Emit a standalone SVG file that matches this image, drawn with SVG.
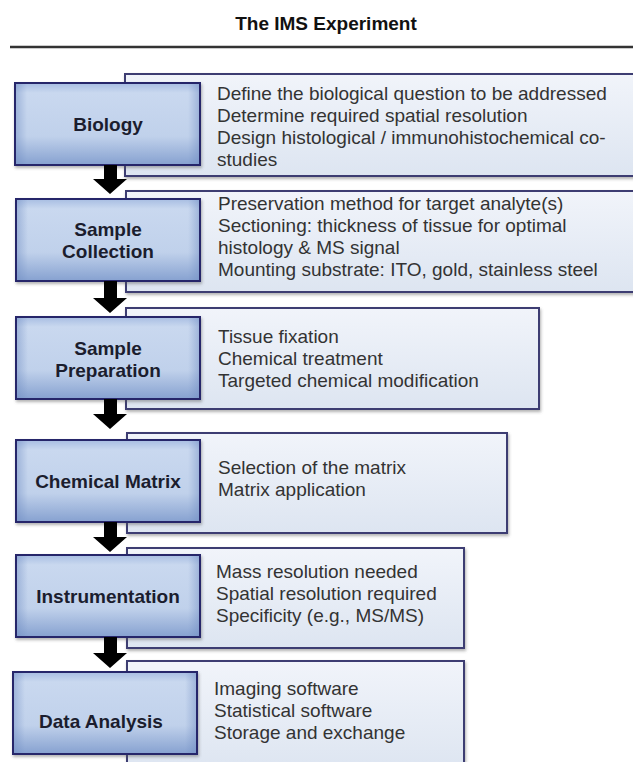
<svg xmlns="http://www.w3.org/2000/svg" width="633" height="762" viewBox="0 0 633 762">
<defs>
<linearGradient id="gMain" x1="0" y1="0" x2="0" y2="1">
<stop offset="0" stop-color="#a7bde2"/>
<stop offset="0.12" stop-color="#c9d8ef"/>
<stop offset="0.65" stop-color="#c0d1eb"/>
<stop offset="1" stop-color="#86a1d0"/>
</linearGradient>
<linearGradient id="gEdge" x1="0" y1="0" x2="1" y2="0">
<stop offset="0" stop-color="#6f8cc2" stop-opacity="0.45"/>
<stop offset="0.06" stop-color="#6f8cc2" stop-opacity="0"/>
<stop offset="0.94" stop-color="#6f8cc2" stop-opacity="0"/>
<stop offset="1" stop-color="#6f8cc2" stop-opacity="0.45"/>
</linearGradient>
<linearGradient id="gDetail" x1="0" y1="0" x2="0" y2="1">
<stop offset="0" stop-color="#f1f4fa"/>
<stop offset="1" stop-color="#dde5f1"/>
</linearGradient>
<filter id="shadow" x="-5%" y="-5%" width="112%" height="120%">
<feDropShadow dx="1" dy="2" stdDeviation="1.5" flood-color="#555" flood-opacity="0.45"/>
</filter>
</defs>
<style>
.title{font-family:"Liberation Sans",Arial,sans-serif;font-weight:bold;font-size:19px;fill:#111;text-anchor:middle}
.label{font-family:"Liberation Sans",Arial,sans-serif;font-weight:bold;font-size:19px;fill:#1b1d2e;text-anchor:middle}
.detail{font-family:"Liberation Sans",Arial,sans-serif;font-size:19px;fill:#333}
.dbox{fill:url(#gDetail);stroke:#3d3c72;stroke-width:2;filter:url(#shadow)}
.mbox{fill:url(#gMain);stroke:#28286a;stroke-width:2;filter:url(#shadow)}
.medge{fill:url(#gEdge);stroke:none}
.arrow{fill:#000}
</style>
<rect x="0" y="0" width="633" height="762" fill="#fff"/>
<text class="title" x="326" y="30">The IMS Experiment</text>
<line x1="10" y1="47" x2="633" y2="47" stroke="#333" stroke-width="2.5"/>

<g id="biology">
<rect class="dbox" x="125" y="74" width="515" height="102"/>
<rect class="mbox" x="15" y="83" width="185" height="82"/>
<rect class="medge" x="16" y="84" width="183" height="80"/>
<text class="label" x="108" y="131">Biology</text>
<text class="detail" x="217" y="100">Define the biological question to be addressed</text>
<text class="detail" x="217" y="122">Determine required spatial resolution</text>
<text class="detail" x="217" y="144">Design histological / immunohistochemical co-</text>
<text class="detail" x="217" y="166">studies</text>
</g>

<g id="sample-collection">
<rect class="dbox" x="126" y="191" width="514" height="101"/>
<rect class="mbox" x="16" y="199" width="184" height="82"/>
<rect class="medge" x="17" y="200" width="182" height="80"/>
<text class="label" x="108" y="236">Sample</text>
<text class="label" x="108" y="258">Collection</text>
<text class="detail" x="218" y="210">Preservation method for target analyte(s)</text>
<text class="detail" x="218" y="232">Sectioning: thickness of tissue for optimal</text>
<text class="detail" x="218" y="254">histology &amp; MS signal</text>
<text class="detail" x="218" y="276">Mounting substrate: ITO, gold, stainless steel</text>
</g>

<g id="sample-preparation">
<rect class="dbox" x="126" y="308" width="413" height="101"/>
<rect class="mbox" x="16" y="317" width="184" height="82"/>
<rect class="medge" x="17" y="318" width="182" height="80"/>
<text class="label" x="108" y="355">Sample</text>
<text class="label" x="108" y="377">Preparation</text>
<text class="detail" x="218" y="343">Tissue fixation</text>
<text class="detail" x="218" y="365">Chemical treatment</text>
<text class="detail" x="218" y="387">Targeted chemical modification</text>
</g>

<g id="chemical-matrix">
<rect class="dbox" x="127" y="433" width="380" height="100"/>
<rect class="mbox" x="16" y="440" width="184" height="82"/>
<rect class="medge" x="17" y="441" width="182" height="80"/>
<text class="label" x="108" y="488">Chemical Matrix</text>
<text class="detail" x="218" y="474">Selection of the matrix</text>
<text class="detail" x="218" y="496">Matrix application</text>
</g>

<g id="instrumentation">
<rect class="dbox" x="127" y="548" width="337" height="100"/>
<rect class="mbox" x="16" y="555" width="184" height="82"/>
<rect class="medge" x="17" y="556" width="182" height="80"/>
<text class="label" x="108" y="603">Instrumentation</text>
<text class="detail" x="216" y="578">Mass resolution needed</text>
<text class="detail" x="216" y="600">Spatial resolution required</text>
<text class="detail" x="216" y="622">Specificity (e.g., MS/MS)</text>
</g>

<g id="data-analysis">
<rect class="dbox" x="127" y="661" width="337" height="110"/>
<rect class="mbox" x="13" y="672" width="184" height="82"/>
<rect class="medge" x="14" y="673" width="182" height="80"/>
<text class="label" x="101" y="728">Data Analysis</text>
<text class="detail" x="214" y="695">Imaging software</text>
<text class="detail" x="214" y="717">Statistical software</text>
<text class="detail" x="214" y="739">Storage and exchange</text>
</g>

<g id="connectors">
<path class="arrow" d="M104,165 H117 V179 H127 L110,194 L93,179 H104 Z"/>
<path class="arrow" d="M104,281 H117 V298 H127 L110,313 L93,298 H104 Z"/>
<path class="arrow" d="M104,399 H117 V414 H127 L110,429 L93,414 H104 Z"/>
<path class="arrow" d="M104,522 H117 V537 H127 L110,552 L93,537 H104 Z"/>
<path class="arrow" d="M104,637 H117 V653 H127 L110,668 L93,653 H104 Z"/>
</g>
</svg>
